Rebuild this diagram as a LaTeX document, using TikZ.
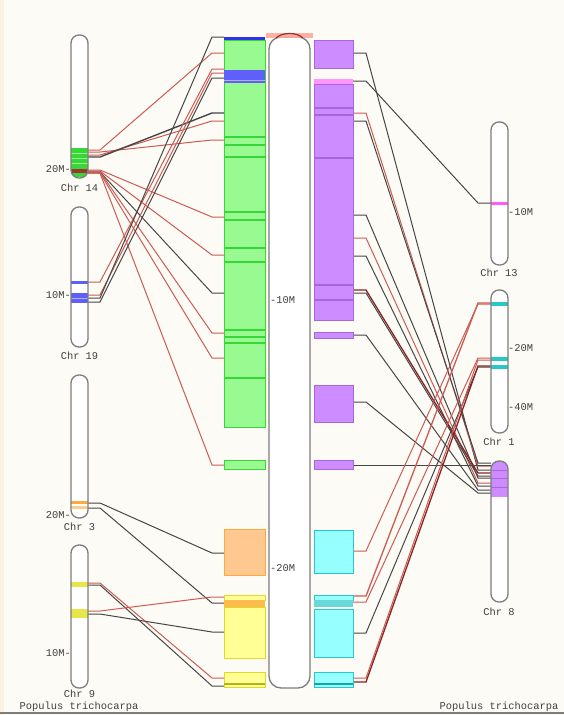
\documentclass[tikz,border=0pt]{standalone}
\usepackage{fontspec}
\newfontfamily\labfont{Liberation Mono}
\definecolor{bg}{RGB}{252,251,245}
\definecolor{strip}{RGB}{248,243,222}
\definecolor{redl}{RGB}{205,90,85}
\definecolor{blkl}{RGB}{70,70,70}
\definecolor{dred}{RGB}{140,35,35}
\definecolor{grnf}{RGB}{152,250,145}
\definecolor{grnd}{RGB}{55,215,55}
\definecolor{bluf}{RGB}{95,95,250}
\definecolor{blud}{RGB}{50,50,235}
\definecolor{purf}{RGB}{205,140,255}
\definecolor{purd}{RGB}{170,100,220}
\definecolor{pinkf}{RGB}{255,150,255}
\definecolor{cyaf}{RGB}{150,255,255}
\definecolor{cyad}{RGB}{40,200,200}
\definecolor{orgf}{RGB}{255,200,145}
\definecolor{orgd}{RGB}{255,170,60}
\definecolor{yelf}{RGB}{255,255,150}
\definecolor{yeld}{RGB}{220,220,40}
\definecolor{magd}{RGB}{255,90,255}
\definecolor{chro}{RGB}{125,125,125}
\definecolor{salm}{RGB}{255,165,150}
\newcommand\lconn[3]{\draw[#1] (88,#2) -- (100,#2) -- (212,#3) -- (224,#3);}
\newcommand\rconn[3]{\draw[#1] (353,#2) -- (366,#2) -- (478,#3) -- (491,#3);}
% \chromo{x-left}{top}{bottom}{band drawing code}
\newcommand\chromo[4]{%
  \fill[white, rounded corners=8pt] (#1,#2) rectangle (#1+17,#3);
  \begin{scope}
    \clip[rounded corners=8pt] (#1,#2) rectangle (#1+17,#3);
    #4
  \end{scope}
  \draw[chromline] (#1,#2) rectangle (#1+17,#3);}
\tikzset{
  chromline/.style={draw=chro, line width=1.3pt, rounded corners=8pt},
  lab/.style={font=\labfont\fontsize{10.4}{11}\selectfont, inner sep=0pt, text=black!75},
  rl/.style={draw=redl, line width=1pt},
  bl/.style={draw=blkl, line width=1pt},
  dl/.style={draw=dred, line width=1.3pt},
  gblk/.style={fill=grnf, draw=grnd, line width=0.8pt},
  pblk/.style={fill=purf, draw=purd, line width=0.8pt},
  cblk/.style={fill=cyaf, draw=cyad, line width=0.8pt},
  oblk/.style={fill=orgf, draw=orgd, line width=0.8pt},
  yblk/.style={fill=yelf, draw=yeld, line width=0.8pt},
}
\begin{document}
\begin{tikzpicture}[x=1pt,y=-1pt]
\useasboundingbox (0,0) rectangle (564,715);
\fill[bg] (0,0) rectangle (564,715);
\fill[strip] (0,0) rectangle (4,715);
\draw[chro, line width=1.5pt] (0,713) -- (564,713);

% ---------------- connectors (left) ----------------
% Chr 14 upper cluster
\lconn{rl}{150}{53}
\lconn{rl}{152}{140}
\lconn{rl}{155}{121}
\lconn{bl,line width=1.4pt}{157}{113}
% Chr 14 lower cluster
\lconn{rl}{170}{217}
\lconn{rl}{171}{255}
\lconn{bl}{172}{293}
\lconn{rl}{172}{333}
\lconn{rl}{173}{358}
\lconn{rl}{173}{465}
% Chr 19
\lconn{rl}{282}{69}
\lconn{rl}{295}{73}
\lconn{bl}{298}{37}
\lconn{bl}{302}{78}
% Chr 3
\lconn{bl}{503}{553}
\lconn{bl}{508}{603}
% Chr 9
\lconn{rl}{583}{678}
\lconn{bl}{585}{686}
\lconn{rl}{611}{597}
\lconn{bl}{614}{632}

% ---------------- connectors (right) ----------------
\rconn{bl}{53}{470}
\rconn{bl}{81}{203}
\rconn{rl}{113}{466}
\rconn{bl}{121}{463}
\rconn{bl}{215}{478}
\rconn{rl}{238}{483}
\rconn{bl}{256}{486}
\rconn{dl}{290}{473}
\rconn{bl}{293}{476}
\rconn{bl}{335}{490}
\rconn{bl}{402}{493}
\draw[bl] (353,465) -- (491,465);
\rconn{rl}{551}{304}
\rconn{rl,line width=1.3pt}{596}{303}
\rconn{rl}{602}{358}
\rconn{bl}{633}{367}
\rconn{rl}{678}{360}
\rconn{dl}{682}{366}

% ---------------- green column ----------------
\draw[gblk] (224,40) rectangle (265,427);
\foreach \yy in {137,145,157,212,220,248,262,330,337,343,378}
  \draw[grnd, line width=1.2pt] (224,\yy) -- (265,\yy);
\fill[blud] (224,37) rectangle (265,40);
\fill[bluf] (224,70) rectangle (265,83);
\draw[blue!30!white, line width=0.6pt] (224,80) -- (265,80);
\draw[gblk] (224,460) rectangle (265,469);
\draw[oblk] (224,529) rectangle (265,575);
\draw[yblk] (224,595) rectangle (265,600);
\fill[orgd!80!yelf] (224,600) rectangle (265,607);
\draw[yblk] (224,607) rectangle (265,658);
\draw[yblk] (224,672) rectangle (265,687);
\draw[yeld!80!black, line width=1.2pt] (224,684) -- (265,684);

% ---------------- purple / cyan column ----------------
\draw[pblk] (314,40) rectangle (353,68);
\fill[pinkf] (314,79) rectangle (353,84);
\draw[pblk] (314,84) rectangle (353,320);
\foreach \yy in {108,115,158,285,300}
  \draw[purd, line width=1.2pt] (314,\yy) -- (353,\yy);
\draw[pblk] (314,332) rectangle (353,338);
\draw[pblk] (314,385) rectangle (353,422);
\draw[pblk] (314,460) rectangle (353,469);
\draw[cblk] (314,530) rectangle (353,573);
\draw[cblk] (314,595) rectangle (353,600);
\fill[cyad!70!white] (314,600) rectangle (353,607);
\draw[cblk] (314,609) rectangle (353,657);
\draw[cblk] (314,672) rectangle (353,687);
\draw[cyad!80!black, line width=1.2pt] (314,684) -- (353,684);

% ---------------- central chromosome ----------------
\draw[chromline, fill=white, rounded corners=12pt] (269,37) rectangle (310,688);
\fill[salm, opacity=0.85] (266,33) rectangle (313,38);
\draw[dred!80!redl, line width=1.2pt] (276,38) .. controls (282,32) and (297,32) .. (303,38);
\node[lab, anchor=west] (c10) at (270,300) {-10M};
\node[lab, anchor=west] (c20) at (270,568) {-20M};

% ---------------- left chromosomes ----------------
% Chr 14
\chromo{71}{35}{178}{%
  \fill[grnd] (71,148) rectangle (88,177);
  \foreach \yy in {153,158,163} \draw[grnf, line width=1pt] (71,\yy) -- (88,\yy);
  \fill[dred!70!redl] (71,169) rectangle (88,173);}
\node[lab, anchor=east] (t14) at (71,169) {20M-};
\node[lab] (n14) at (79.5,188) {Chr 14};
% Chr 19
\chromo{71}{207}{347}{%
  \fill[bluf] (71,281) rectangle (88,284);
  \fill[bluf] (71,293) rectangle (88,303);
  \draw[blue!30!white, line width=0.6pt] (71,298) -- (88,298);}
\node[lab, anchor=east] (t19) at (71,295) {10M-};
\node[lab] (n19) at (79.5,356) {Chr 19};
% Chr 3
\chromo{71}{375}{518}{%
  \fill[orgd] (71,501) rectangle (88,504);
  \fill[orgd!60!white] (71,506) rectangle (88,509);}
\node[lab, anchor=east] (t3) at (71,515) {20M-};
\node[lab] (n3) at (79.5,527) {Chr 3};
% Chr 9
\chromo{71}{545}{688}{%
  \fill[yeld!70!yelf] (71,582) rectangle (88,587);
  \fill[yeld!70!yelf] (71,609) rectangle (88,618);}
\node[lab, anchor=east] (t9) at (71,653) {10M-};
\node[lab] (n9) at (79.5,694) {Chr 9};
\node[lab] (spl) at (79,706.5) {Populus trichocarpa};

% ---------------- right chromosomes ----------------
% Chr 13
\chromo{491}{122}{265}{%
  \fill[magd] (491,202) rectangle (508,205);}
\node[lab, anchor=west] (t13) at (508,212) {-10M};
\node[lab] (n13) at (499,273) {Chr 13};
% Chr 1
\chromo{491}{290}{433}{%
  \fill[cyad] (491,302) rectangle (508,306);
  \fill[cyad] (491,357) rectangle (508,361);
  \fill[cyad] (491,365) rectangle (508,369);}
\node[lab, anchor=west] (t1a) at (508,348) {-20M};
\node[lab, anchor=west] (t1b) at (508,407) {-40M};
\node[lab] (n1) at (499,442) {Chr 1};
% Chr 8
\chromo{491}{461}{602}{%
  \fill[purf] (491,461) rectangle (508,497);
  \foreach \yy in {470,478,487} \draw[purd, line width=1pt] (491,\yy) -- (508,\yy);}
\node[lab] (n8) at (499,612) {Chr 8};
\node[lab] (spr) at (499,706.5) {Populus trichocarpa};
\end{tikzpicture}
\end{document}
